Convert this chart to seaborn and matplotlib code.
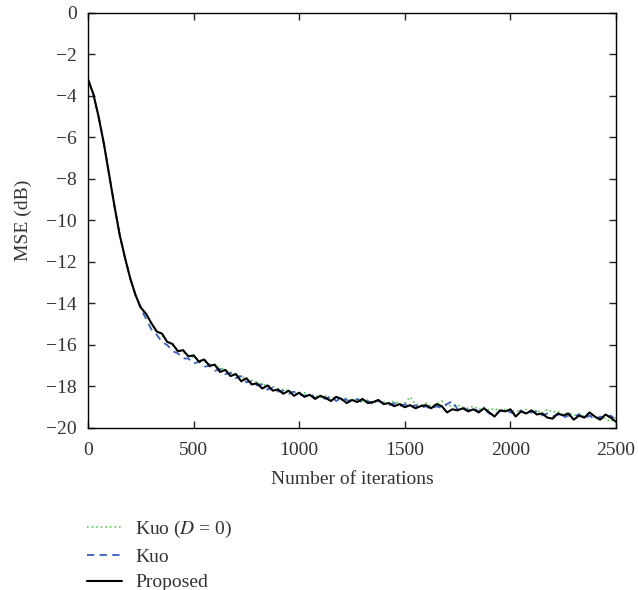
import numpy as np
import pandas as pd
import matplotlib
matplotlib.use("Agg")
import matplotlib.pyplot as plt
import seaborn as sns

# MSE curves (dB), sampled every 25 iterations
step = 25

proposed = [
    -3.2, -3.9, -5.0, -6.3, -7.8, -9.3, -10.7, -11.8, -12.8, -13.6,
    -14.2, -14.5, -14.95, -15.35, -15.45, -15.85, -15.95, -16.3, -16.25, -16.55,
    -16.5, -16.8, -16.7, -17.0, -16.95, -17.3, -17.2, -17.5, -17.4, -17.75,
    -17.6, -17.9, -17.85, -18.1, -17.95, -18.2, -18.15, -18.35, -18.2, -18.45,
    -18.3, -18.5, -18.4, -18.6, -18.45, -18.55, -18.7, -18.5, -18.6, -18.8,
    -18.65, -18.75, -18.6, -18.8, -18.75, -18.65, -18.85, -18.8, -18.95, -18.85,
    -19.0, -18.9, -19.05, -18.95, -18.9, -19.05, -18.85, -18.95, -19.25, -19.1,
    -19.15, -19.05, -19.2, -19.1, -19.25, -19.05, -19.25, -19.45, -19.15, -19.2,
    -19.1, -19.45, -19.2, -19.3, -19.15, -19.35, -19.3, -19.5, -19.55, -19.3,
    -19.4, -19.3, -19.6, -19.4, -19.5, -19.25, -19.45, -19.6, -19.35, -19.5,
    -19.7,
]

kuo = [
    -3.2, -3.9, -5.0, -6.3, -7.8, -9.3, -10.7, -11.8, -12.8, -13.6,
    -14.25, -14.75, -15.25, -15.5, -15.85, -16.0, -16.3, -16.4, -16.65, -16.65,
    -16.9, -16.8, -17.05, -17.0, -17.25, -17.15, -17.4, -17.35, -17.6, -17.5,
    -17.8, -17.75, -17.95, -17.9, -18.15, -18.05, -18.25, -18.2, -18.35, -18.25,
    -18.4, -18.45, -18.35, -18.55, -18.5, -18.6, -18.45, -18.7, -18.55, -18.65,
    -18.75, -18.6, -18.8, -18.7, -18.85, -18.7, -18.8, -18.9, -18.8, -18.95,
    -18.85, -19.0, -18.9, -19.05, -18.95, -19.1, -18.95, -19.05, -18.85, -18.7,
    -19.1, -19.0, -19.15, -19.05, -19.2, -19.1, -19.3, -19.4, -19.2, -19.1,
    -19.25, -19.3, -19.15, -19.35, -19.25, -19.2, -19.4, -19.3, -19.45, -19.35,
    -19.5, -19.4, -19.45, -19.35, -19.55, -19.4, -19.6, -19.45, -19.55, -19.4,
    -19.6,
]

kuo_d0 = [
    -3.2, -3.9, -5.0, -6.3, -7.8, -9.3, -10.7, -11.8, -12.8, -13.6,
    -14.2, -14.55, -15.0, -15.3, -15.55, -15.8, -16.0, -16.25, -16.35, -16.5,
    -16.6, -16.7, -16.8, -16.9, -17.0, -17.1, -17.2, -17.3, -17.45, -17.5,
    -17.65, -17.7, -17.8, -17.9, -17.95, -18.0, -18.1, -18.15, -18.2, -18.3,
    -18.35, -18.3, -18.45, -18.4, -18.55, -18.45, -18.6, -18.5, -18.65, -18.55,
    -18.7, -18.6, -18.7, -18.65, -18.8, -18.7, -18.75, -18.8, -18.7, -18.85,
    -18.8, -18.5, -18.85, -18.9, -18.8, -18.95, -18.85, -18.7, -18.9, -18.95,
    -18.9, -19.0, -19.05, -18.95, -19.1, -19.0, -19.15, -19.05, -19.2, -19.1,
    -19.2, -19.15, -19.25, -19.1, -19.2, -19.15, -19.3, -19.1, -19.25, -19.2,
    -19.35, -19.25, -19.4, -19.3, -19.45, -19.35, -19.5, -19.45, -19.55, -19.7,
    -19.5,
]

labels = [r"Kuo ($D$ = 0)", "Kuo", "Proposed"]
colors = ["#3dcc3d", "#3a5fc0", "black"]
styles = [(0, (1, 2)), (0, (4, 3)), "-"]
widths = [1.1, 1.3, 1.5]

iterations = np.arange(len(proposed)) * step

sns.set_style("ticks")
plt.rcParams["font.family"] = ["Liberation Serif", "DejaVu Serif"]
plt.rcParams["mathtext.fontset"] = "stix"
plt.rcParams["xtick.direction"] = "in"
plt.rcParams["ytick.direction"] = "in"

fig = plt.figure(figsize=(6.38, 5.9), dpi=100)
ax = fig.add_axes([0.138, 0.2746, 0.8275, 0.7034])

for lab, vals, c, ls, lw in zip(labels, [kuo_d0, kuo, proposed], colors, styles, widths):
    df = pd.DataFrame({"iter": iterations, "mse": vals})
    sns.lineplot(data=df, x="iter", y="mse", ax=ax, color=c, linestyle=ls,
                 linewidth=lw, label=lab)

ax.set_xlim(0, 2500)
ax.set_ylim(-20, 0)
ax.set_xticks([0, 500, 1000, 1500, 2000, 2500])
ax.set_yticks(np.arange(-20, 1, 2))
ax.set_yticklabels(["\u2212" + str(abs(v)) if v < 0 else str(v) for v in range(-20, 1, 2)])
ax.tick_params(axis="both", labelsize=14, length=5, width=1, top=True, right=True,
               colors="#222222", labelcolor="#333333")
ax.tick_params(axis="x", pad=10)
ax.tick_params(axis="y", pad=8)
for s in ax.spines.values():
    s.set_linewidth(1.0)
    s.set_color("black")
ax.set_xlabel("Number of iterations", fontsize=14, color="#333333", labelpad=9)
ax.set_ylabel("MSE (dB)", fontsize=14, color="#333333", labelpad=10)

ax.legend(loc="upper left", bbox_to_anchor=(-0.017, -0.2), frameon=False,
          fontsize=14, handlelength=1.8, handletextpad=0.7, labelspacing=0.42,
          borderaxespad=0, labelcolor="#333333")

fig.savefig("out.png", dpi=100)
